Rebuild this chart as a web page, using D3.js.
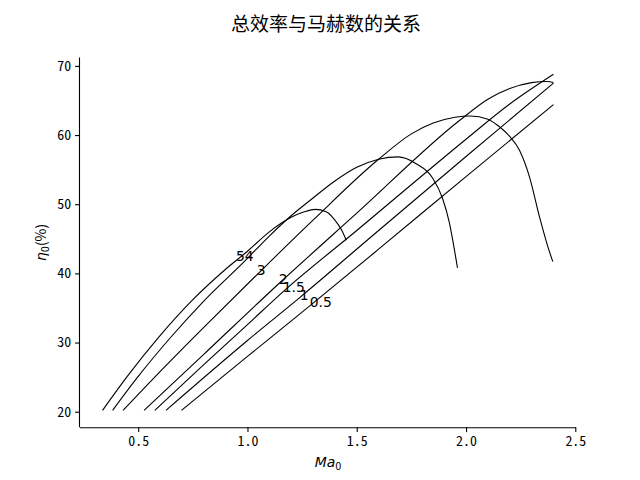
<!DOCTYPE html>
<html><head><meta charset="utf-8">
<script src="https://cdn.jsdelivr.net/npm/d3@7"></script>
<style>body{margin:0;background:#fff}</style>
</head><body>
<svg id="c" width="640" height="480"></svg>
<script>
const title = "总效率与马赫数的关系";
const params = ["5","4","3","2","1.5","1","0.5"];
const ma_5   = [0.337,0.45,0.6,0.75,0.9,1.0,1.1,1.2,1.26,1.31,1.36,1.40,1.43,1.452];
const eta_5  = [20.2,25.1,31.0,36.2,40.6,43.2,46.0,48.1,48.9,49.25,48.9,47.7,46.3,44.8];
const ma_4   = [0.383,0.5,0.65,0.8,0.985,1.1,1.184,1.3,1.4,1.5,1.6,1.69,1.77,1.847,1.892,1.924,1.947,1.961];
const eta_4  = [20.2,25.1,30.8,36.0,41.7,45.4,47.9,50.9,53.35,55.33,56.51,56.85,55.9,53.8,50.9,47.3,43.4,40.8];
const ma_3   = [0.431,0.6,0.8,1.043,1.3,1.6,1.75,1.85,1.95,2.02,2.1,2.153,2.2,2.244,2.29,2.336,2.374,2.397];
const eta_3  = [20.2,25.8,32.2,39.8,47.7,56.5,60.17,61.73,62.58,62.75,62.3,61.2,59.8,57.85,54.0,48.2,43.9,41.7];
const ma_2   = [0.527,0.8,1.143,1.5,1.97,2.1,2.2,2.3,2.37,2.4];
const eta_2  = [20.2,28.3,38.5,48.7,62.1,65.18,66.73,67.58,67.75,67.6];
const ma_15  = [0.576,0.8,1.0,1.161,1.5,2.0,2.2,2.4];
const eta_15 = [20.2,26.8,32.6,37.3,46.2,59.4,64.5,68.8];
const ma_1   = [0.627,1.0,1.239,1.6,2.0,2.4];
const eta_1  = [20.2,30.3,36.5,46.2,56.9,67.5];
const ma_05  = [0.698,1.0,1.285,1.6,2.0,2.4];
const eta_05 = [20.2,28.0,35.3,43.5,54.0,64.4];
const labelMa  = [0.947,0.988,1.043,1.143,1.161,1.239,1.285];
const labelEta = [41.8,41.8,39.8,38.5,37.3,36.2,35.1];
const xTicks = [0.5,1.0,1.5,2.0,2.5];
const yTicks = [20,30,40,50,60,70];

const curves = [[ma_5,eta_5],[ma_4,eta_4],[ma_3,eta_3],[ma_2,eta_2],[ma_15,eta_15],[ma_1,eta_1],[ma_05,eta_05]];

const svg = d3.select("#c");
const L=80,R=576,T=57.6,B=427.2;
const x = d3.scaleLinear().domain([0.2337,2.5032]).range([L,R]);
const y = d3.scaleLinear().domain([17.76,71.2]).range([B,T]);

const tickFont = "'Noto Sans Mono CJK SC','Noto Sans CJK SC',sans-serif";

const gx = svg.append("g").attr("transform",`translate(0,${B})`)
  .call(d3.axisBottom(x).tickValues(xTicks).tickFormat(d3.format(".1f")).tickSizeOuter(0).tickSize(4.9).tickPadding(4));
const gy = svg.append("g").attr("transform",`translate(${L},0)`)
  .call(d3.axisLeft(y).tickValues(yTicks).tickFormat(d3.format("d")).tickSizeOuter(0).tickSize(4.9).tickPadding(4));
[gx,gy].forEach(g=>{
  g.select(".domain").attr("stroke","#000").attr("stroke-width",1.1);
  g.selectAll(".tick line").attr("stroke","#000").attr("stroke-width",1.1);
  g.selectAll(".tick text").attr("fill","#000").style("font-family",tickFont).style("font-size","13.9px");
});
gx.select(".domain").attr("d",`M${L},0.5H${R}`);
gy.select(".domain").attr("d",`M-0.5,${B}V${T}`);

const line = d3.line().x(d=>x(d[0])).y(d=>y(d[1])).curve(d3.curveMonotoneX);
curves.forEach(([m,e])=>{
  svg.append("path").datum(m.map((v,i)=>[v,e[i]]))
    .attr("d",line).attr("fill","none").attr("stroke","#000").attr("stroke-width",1.1);
});

params.forEach((p,i)=>{
  svg.append("text").attr("x",x(labelMa[i])).attr("y",y(labelEta[i]))
    .style("font-family","'DejaVu Sans',sans-serif").style("font-size","13.9px").text(p);
});

svg.append("text").attr("x",326).attr("y",31).attr("text-anchor","middle")
  .style("font-family","'Noto Sans CJK SC',sans-serif").style("font-size","19px").text(title);

// x label: Ma_0
const xl = svg.append("text").attr("x",328).attr("y",467).attr("text-anchor","middle")
  .style("font-family","'DejaVu Sans',sans-serif").style("font-size","13.9px");
xl.append("tspan").style("font-style","italic").text("Ma");
xl.append("tspan").attr("dy",3).style("font-size","9.7px").text("0");

// y label: η_0(%)
const yl = svg.append("text").attr("transform","translate(46,242.5) rotate(-90)").attr("text-anchor","middle")
  .style("font-family","'DejaVu Sans',sans-serif").style("font-size","13.9px");
yl.append("tspan").style("font-style","italic").text("η");
yl.append("tspan").attr("dy",3).style("font-size","9.7px").text("0");
yl.append("tspan").attr("dy",-3).style("font-family","'Noto Sans CJK SC',sans-serif").text("(%)");
</script>
</body></html>
